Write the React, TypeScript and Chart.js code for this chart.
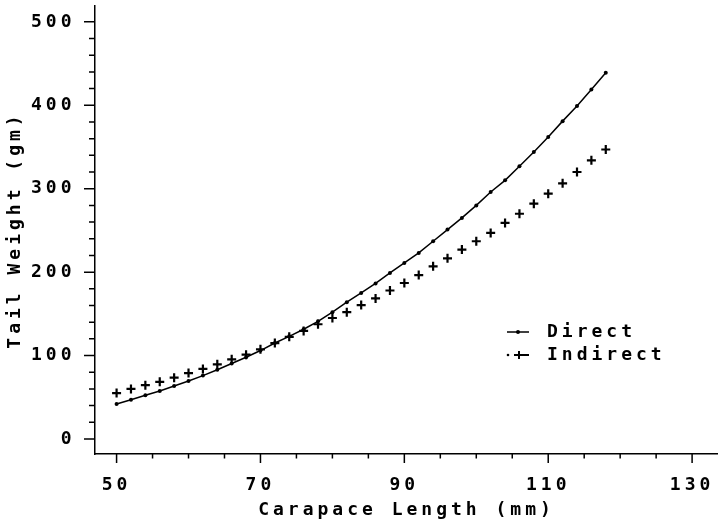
import React, { useEffect, useRef } from 'react';
import { Chart, registerables } from 'chart.js';

Chart.register(...registerables);

// Carapace length (mm)
const lengths = [50, 52, 54, 56, 58, 60, 62, 64, 66, 68, 70, 72, 74, 76, 78, 80, 82, 84, 86, 88, 90, 92, 94, 96, 98, 100, 102, 104, 106, 108, 110, 112, 114, 116, 118];
// Tail weight (gm)
const direct = [42, 47, 52.5, 57.5, 63.5, 69.5, 76, 83, 90.5, 98, 106, 115, 123, 131.5, 141, 152, 164, 175, 186.5, 199, 211, 223, 237, 251, 265, 280, 296, 310, 327, 344, 362, 381, 399, 419, 439];
const indirect = [55, 60, 64.5, 68.5, 73.5, 79, 84, 89.5, 95.5, 101, 107.5, 115, 122.5, 129.5, 137.5, 145, 152, 160.5, 168.5, 178, 187, 196.5, 207, 216.5, 227, 237, 247, 259, 270, 282, 294, 306.5, 320, 334, 347];

const xTickLabels = [50, 70, 90, 110, 130];
const yTickLabels = [0, 100, 200, 300, 400, 500];
const xMinorTicks = [50, 55, 60, 65, 70, 75, 80, 85, 90, 95, 100, 105, 110, 115, 120, 125, 130];
const yMinorTicks = [0, 20, 40, 60, 80, 100, 120, 140, 160, 180, 200, 220, 240, 260, 280, 300, 320, 340, 360, 380, 400, 420, 440, 460, 480, 500];
const seriesNames = ['Direct', 'Indirect'];
const xTitle = 'Carapace Length (mm)';
const yTitle = 'Tail Weight (gm)';

const FONT_FAMILY = "'DejaVu Sans Mono', monospace";
const FONT_SIZE = 18;
const SPACING = '4px';

const zeroPadding = () => ({ left: 0, top: 0, right: 0, bottom: 0 });

const tickPlugin = {
  id: 'customTicks',
  beforeInit(chart: any) {
    (chart.ctx as any).letterSpacing = SPACING;
  },
  beforeDraw(chart: any) {
    (chart.ctx as any).letterSpacing = SPACING;
  },
  afterDraw(chart: any) {
    const ctx = chart.ctx as CanvasRenderingContext2D;
    const xs = chart.scales.x;
    const ys = chart.scales.y;
    const area = chart.chartArea;
    ctx.save();
    ctx.strokeStyle = '#000';
    ctx.lineWidth = 1.5;
    ctx.beginPath();
    for (const v of xMinorTicks) {
      const px = xs.getPixelForValue(v);
      const len = xTickLabels.includes(v) ? 9 : 4.5;
      ctx.moveTo(px, area.bottom);
      ctx.lineTo(px, area.bottom + len);
    }
    for (const v of yMinorTicks) {
      const py = ys.getPixelForValue(v);
      const len = yTickLabels.includes(v) ? 11 : 6;
      ctx.moveTo(area.left, py);
      ctx.lineTo(area.left - len, py);
    }
    ctx.stroke();

    // legend
    (ctx as any).letterSpacing = SPACING;
    ctx.font = `bold ${FONT_SIZE}px ${FONT_FAMILY}`;
    ctx.fillStyle = '#000';
    ctx.textAlign = 'left';
    ctx.textBaseline = 'middle';
    const lx = 507;
    const tx = 547;
    const y1 = 332;
    const y2 = 355;
    ctx.lineWidth = 1.5;
    ctx.beginPath();
    ctx.moveTo(lx, y1);
    ctx.lineTo(lx + 22, y1);
    ctx.stroke();
    ctx.beginPath();
    ctx.arc(lx + 11, y1, 2, 0, Math.PI * 2);
    ctx.fill();
    ctx.fillText(seriesNames[0], tx, y1);
    ctx.beginPath();
    ctx.arc(lx + 1, y2, 1.3, 0, Math.PI * 2);
    ctx.fill();
    ctx.beginPath();
    ctx.lineWidth = 2;
    ctx.moveTo(lx + 7, y2);
    ctx.lineTo(lx + 22, y2);
    ctx.moveTo(lx + 12, y2 - 4);
    ctx.lineTo(lx + 12, y2 + 4);
    ctx.stroke();
    ctx.fillText(seriesNames[1], tx, y2);
    ctx.restore();
  },
};

export default function App() {
  const ref = useRef<HTMLCanvasElement | null>(null);
  useEffect(() => {
    if (!ref.current) return;
    const font = { family: FONT_FAMILY, size: FONT_SIZE, weight: 'bold' as const };
    const chart = new Chart(ref.current, {
      type: 'line',
      data: {
        datasets: [
          {
            label: seriesNames[0],
            data: lengths.map((x, i) => ({ x, y: direct[i] })),
            borderColor: '#000',
            backgroundColor: '#000',
            borderWidth: 1.5,
            pointRadius: 2,
            pointBorderWidth: 0,
            pointStyle: 'circle',
            tension: 0,
            fill: false,
          },
          {
            label: seriesNames[1],
            data: lengths.map((x, i) => ({ x, y: indirect[i] })),
            borderColor: '#000',
            backgroundColor: '#000',
            showLine: false,
            pointRadius: 4.5,
            pointBorderWidth: 2.2,
            pointStyle: 'cross',
            fill: false,
          },
        ],
      },
      options: {
        responsive: false,
        animation: false,
        events: [],
        layout: { autoPadding: false, padding: { top: 6, right: 0, left: 0, bottom: 0 } },
        plugins: {
          legend: { display: false },
          tooltip: { enabled: false },
        },
        scales: {
          x: {
            type: 'linear',
            min: 47,
            max: 133.6,
            afterBuildTicks: (s: any) => {
              s.ticks = xTickLabels.map((v) => ({ value: v }));
            },
            afterFit: (s: any) => {
              s.height = 67;
              s.paddingLeft = 0;
              s.paddingRight = 0;
              s.paddingTop = 0;
              s.paddingBottom = 0;
              s.getPadding = zeroPadding;
            },
            grid: { display: true, drawOnChartArea: false, drawTicks: false },
            border: { display: true, color: '#000', width: 1.5 },
            ticks: {
              color: '#000',
              font,
              padding: 20.5,
              maxRotation: 0,
              autoSkip: false,
              callback: (v: any) => String(v),
            },
            title: {
              display: true,
              text: xTitle,
              color: '#000',
              font,
              padding: { top: 0, bottom: 0 },
            },
          },
          y: {
            type: 'linear',
            min: -18,
            max: 519,
            afterBuildTicks: (s: any) => {
              s.ticks = yTickLabels.map((v) => ({ value: v }));
            },
            afterFit: (s: any) => {
              s.width = 95;
              s.paddingLeft = 0;
              s.paddingRight = 0;
              s.paddingTop = 0;
              s.paddingBottom = 0;
              s.getPadding = zeroPadding;
            },
            grid: { display: true, drawOnChartArea: false, drawTicks: false },
            border: { display: true, color: '#000', width: 1.5 },
            ticks: {
              color: '#000',
              font,
              padding: 19.5,
              autoSkip: false,
              callback: (v: any) => String(v),
            },
            title: {
              display: true,
              text: yTitle,
              color: '#000',
              font,
              padding: { top: 5, bottom: 5 },
            },
          },
        },
      },
      plugins: [tickPlugin],
    });
    return () => chart.destroy();
  }, []);
  return (
    <div style={{ position: 'fixed', left: 0, top: 0, width: 718, height: 521, background: '#fff' }}>
      <canvas ref={ref} width={718} height={521} style={{ width: 718, height: 521, display: 'block' }} />
    </div>
  );
}
